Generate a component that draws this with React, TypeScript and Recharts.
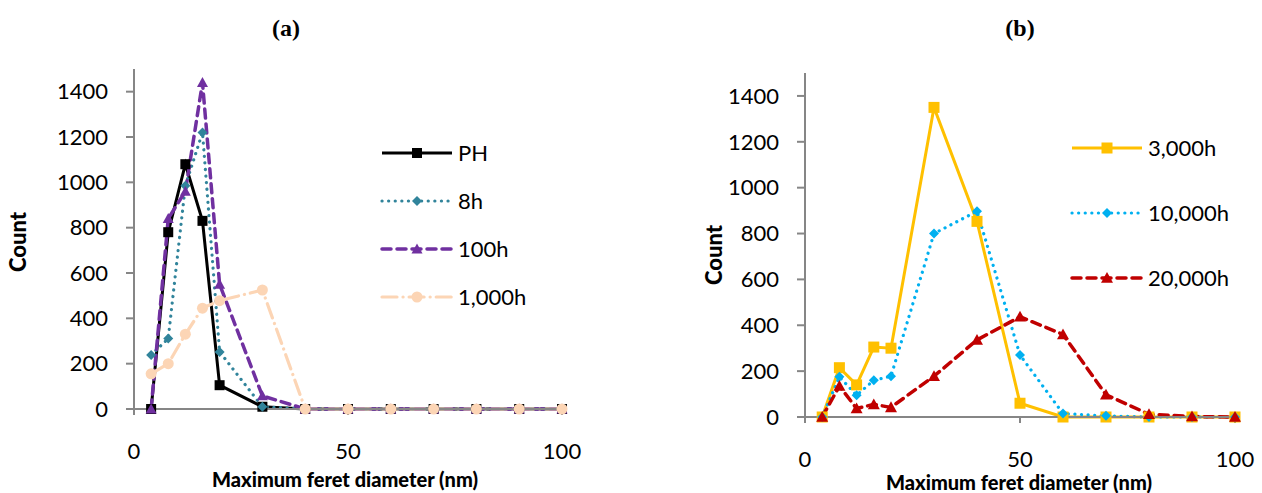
import React from 'react';
import { LineChart, Line, XAxis, YAxis, Legend } from 'recharts';

// feret diameter bins (nm), same for both panels
const diameters = [4, 8, 12, 16, 20, 30, 40, 50, 60, 70, 80, 90, 100];

// panel (a)
const countPH = [0, 780, 1080, 830, 105, 10, 0, 0, 0, 0, 0, 0, 0];
const count8h = [238, 311, 985, 1220, 252, 10, 0, 0, 0, 0, 0, 0, 0];
const count100h = [0, 840, 960, 1440, 550, 58, 0, 0, 0, 0, 0, 0, 0];
const count1000h = [155, 200, 330, 445, 478, 525, 0, 0, 0, 0, 0, 0, 0];

// panel (b)
const count3000h = [0, 215, 140, 305, 300, 1350, 853, 60, 0, 0, 0, 0, 0];
const count10000h = [0, 175, 95, 160, 178, 800, 897, 270, 15, 5, 0, 0, 0];
const count20000h = [0, 135, 37, 55, 42, 178, 336, 437, 360, 97, 12, 2, 0];

const xTicks = [0, 50, 100];
const yTicks = [0, 200, 400, 600, 800, 1000, 1200, 1400];

type Shape = 'square' | 'diamond' | 'triangle' | 'circle';

interface SeriesDef {
  key: string;
  name: string;
  values: number[];
  color: string;
  dash?: string;
  width: number;
  shape: Shape;
  size: number;
}

const seriesA: SeriesDef[] = [
  { key: 'ph', name: 'PH', values: countPH, color: '#000000', width: 3, shape: 'square', size: 10 },
  { key: 'h8', name: '8h', values: count8h, color: '#31849B', dash: '0.1 6.5', width: 3.2, shape: 'diamond', size: 10 },
  { key: 'h100', name: '100h', values: count100h, color: '#7030A0', dash: '9 6', width: 3.5, shape: 'triangle', size: 11 },
  { key: 'h1000', name: '1,000h', values: count1000h, color: '#FCD5B5', dash: '15 6 0.1 6', width: 3.2, shape: 'circle', size: 11 },
];

const seriesB: SeriesDef[] = [
  { key: 'h3000', name: '3,000h', values: count3000h, color: '#FFC000', width: 3, shape: 'square', size: 11 },
  { key: 'h10000', name: '10,000h', values: count10000h, color: '#00B0F0', dash: '0.1 6.5', width: 3.2, shape: 'diamond', size: 10 },
  { key: 'h20000', name: '20,000h', values: count20000h, color: '#C00000', dash: '9 6', width: 3.5, shape: 'triangle', size: 12 },
];

const buildRows = (series: SeriesDef[]) =>
  diameters.map((d, i) => {
    const row: Record<string, number> = { d };
    series.forEach((s) => {
      row[s.key] = s.values[i];
    });
    return row;
  });

const FONT = 'Lato, "Open Sans", sans-serif';
const AXIS = '#868686';

const Marker = ({ cx, cy, shape, size, fill }: { cx: number; cy: number; shape: Shape; size: number; fill: string }) => {
  const h = size / 2;
  if (shape === 'square') return <rect x={cx - h} y={cy - h} width={size} height={size} fill={fill} />;
  if (shape === 'diamond')
    return <polygon points={`${cx},${cy - h} ${cx + h},${cy} ${cx},${cy + h} ${cx - h},${cy}`} fill={fill} />;
  if (shape === 'triangle')
    return <polygon points={`${cx},${cy - h} ${cx + h},${cy + h * 0.8} ${cx - h},${cy + h * 0.8}`} fill={fill} />;
  return <circle cx={cx} cy={cy} r={h} fill={fill} />;
};

const SeriesLegend = ({ series, gap }: { series: SeriesDef[]; gap: number }) => (
  <svg width={170} height={200} style={{ overflow: 'visible' }}>
    {series.map((s, i) => {
      const y = 23 + i * gap;
      return (
        <g key={s.key}>
          <line x1={7} x2={77} y1={y} y2={y} stroke={s.color} strokeWidth={s.width}
            strokeDasharray={s.dash} strokeLinecap={s.dash ? 'round' : 'butt'} />
          <Marker cx={42} cy={y} shape={s.shape} size={s.size} fill={s.color} />
          <text x={83} y={y} dy="0.36em" fontSize={22} fontFamily={FONT} fill="#000">{s.name}</text>
        </g>
      );
    })}
  </svg>
);

interface PanelProps {
  series: SeriesDef[];
  width: number;
  margin: { top: number; right: number; bottom: number; left: number };
  yWidth: number;
  xHeight: number;
  legendPos: { left: number; top: number };
  legendGap: number;
}

const Panel = ({ series, width, margin, yWidth, xHeight, legendPos, legendGap }: PanelProps) => (
  <LineChart width={width} height={493} data={buildRows(series)} margin={margin}>
    <XAxis
      dataKey="d"
      type="number"
      domain={[0, 100]}
      ticks={xTicks}
      height={xHeight}
      stroke={AXIS}
      strokeWidth={2}
      tickSize={6}
      tickMargin={28}
      tick={{ fill: '#000', fontSize: 22, fontFamily: FONT }}
    />
    <YAxis
      type="number"
      domain={[0, 1500]}
      ticks={yTicks}
      width={yWidth}
      stroke={AXIS}
      strokeWidth={2}
      tickSize={8}
      tickMargin={18}
      tick={{ fill: '#000', fontSize: 22, fontFamily: FONT }}
    />
    <Legend
      layout="vertical"
      align="center"
      verticalAlign="middle"
      wrapperStyle={{ left: legendPos.left, top: legendPos.top, width: 170, height: 200 }}
      content={() => <SeriesLegend series={series} gap={legendGap} />}
    />
    {series.map((s) => (
      <Line
        key={s.key}
        dataKey={s.key}
        name={s.name}
        type="linear"
        stroke={s.color}
        strokeWidth={s.width}
        strokeDasharray={s.dash}
        strokeLinecap={s.dash ? 'round' : 'butt'}
        isAnimationActive={false}
        activeDot={false}
        dot={(p: any) => (
          <Marker key={`${s.key}-${p.index}`} cx={p.cx} cy={p.cy} shape={s.shape} size={s.size} fill={s.color} />
        )}
      />
    ))}
  </LineChart>
);

const abs = (left: number, top: number): React.CSSProperties => ({
  position: 'absolute',
  left,
  top,
  transform: 'translate(-50%, -50%)',
  whiteSpace: 'nowrap',
  lineHeight: 1,
});

const App = () => {
  return (
    <div style={{ position: 'absolute', left: 0, top: 0, width: 1262, height: 493, background: '#fff', fontFamily: FONT }}>
      <div style={{ position: 'absolute', left: 0, top: 0 }}>
        <Panel
          series={seriesA}
          width={640}
          margin={{ top: 69, right: 78, bottom: 0, left: 0 }}
          yWidth={134}
          xHeight={84}
          legendPos={{ left: 375, top: 130 }}
          legendGap={48}
        />
      </div>
      <div style={{ position: 'absolute', left: 640, top: 0 }}>
        <Panel
          series={seriesB}
          width={622}
          margin={{ top: 73, right: 27, bottom: 0, left: 0 }}
          yWidth={165}
          xHeight={76}
          legendPos={{ left: 425, top: 125 }}
          legendGap={65}
        />
      </div>

      <div style={{ ...abs(286, 28), fontFamily: '"Liberation Serif", "Times New Roman", serif', fontWeight: 'bold', fontSize: 24 }}>(a)</div>
      <div style={{ ...abs(1020, 28), fontFamily: '"Liberation Serif", "Times New Roman", serif', fontWeight: 'bold', fontSize: 24 }}>(b)</div>

      <div style={{ ...abs(18, 242), transform: 'translate(-50%, -50%) rotate(-90deg)', fontWeight: 900, fontSize: 22 }}>Count</div>
      <div style={{ ...abs(714, 255), transform: 'translate(-50%, -50%) rotate(-90deg)', fontWeight: 900, fontSize: 22 }}>Count</div>

      <div style={{ ...abs(345, 479), fontWeight: 900, fontSize: 20 }}>Maximum feret diameter (nm)</div>
      <div style={{ ...abs(1019, 482), fontWeight: 900, fontSize: 20 }}>Maximum feret diameter (nm)</div>
    </div>
  );
};

export default App;
